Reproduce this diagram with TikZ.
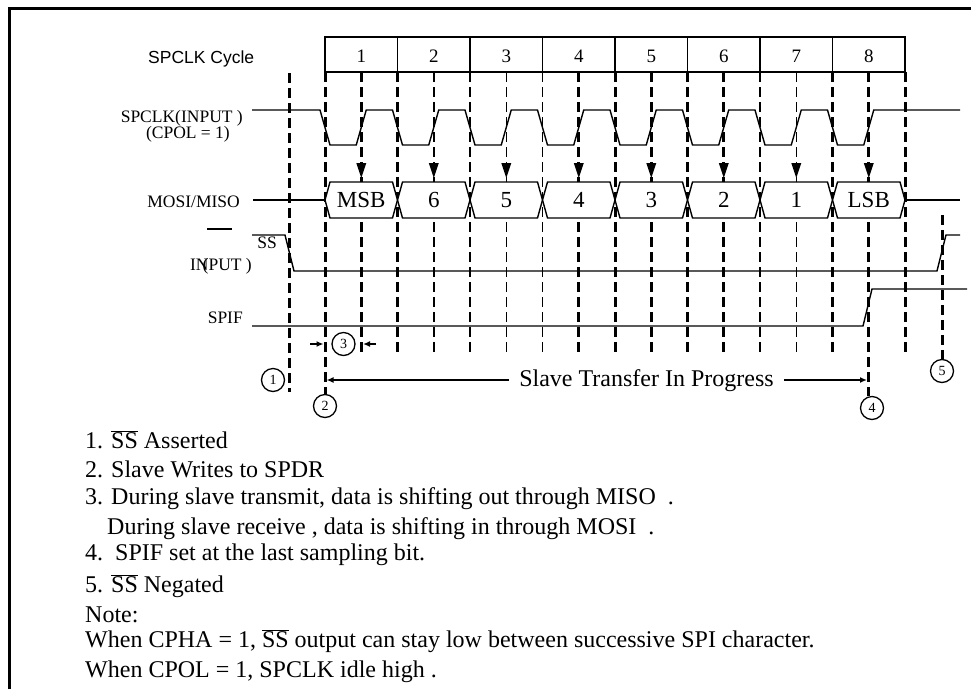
\documentclass[tikz,border=0pt]{standalone}
\usepackage{fontspec}
\setmainfont{Liberation Serif}
\newfontfamily\arial{Liberation Sans}
\usetikzlibrary{arrows.meta, positioning}

\newcommand{\barra}[1]{$\overline{\mbox{#1}}$}

\begin{document}
\begin{tikzpicture}[x=1pt, y=-1pt,
    senal/.style    = {draw=black, line width=1.4pt, line join=miter},
    celda/.style    = {draw=black, line width=1.4pt},
    guia/.style     = {draw=black, line width=3pt,
                       dash pattern=on 10pt off 5pt},
    guiafina/.style = {draw=black, line width=1.5pt,
                       dash pattern=on 10pt off 5pt},
    numero/.style   = {font=\fontsize{19}{22}\selectfont, inner sep=0pt},
    bit/.style      = {font=\fontsize{23}{27}\selectfont, inner sep=0pt},
    nombre/.style   = {font=\fontsize{17.5}{20}\selectfont, inner sep=0pt,
                       anchor=base east},
    texto/.style    = {font=\fontsize{24}{29}\selectfont, inner sep=0pt,
                       anchor=base west},
    marca/.style    = {circle, draw=black, line width=1.3pt,
                       minimum size=23pt, inner sep=0pt,
                       font=\fontsize{14}{16}\selectfont},
    flecha/.style   = {-{Latex[length=7pt,width=6pt]}, draw=black,
                       line width=1.4pt},
  ]
  \useasboundingbox (0,0) rectangle (971,689);

  %-------------------------------------------------- marco
  \draw[line width=3pt] (9,689) -- (9,8.5) -- (971,8.5);

  %-------------------------------------------------- ciclos de SPCLK
  \node[anchor=base west, inner sep=0pt,
        font=\arial\fontsize{17.5}{21}\selectfont] (ciclo) at (148,63)
    {SPCLK Cycle};
  \draw[celda] (325,37) rectangle (905,72);
  \foreach \k in {1,...,7}
    \draw[celda] ({325+72.5*\k},37) -- ({325+72.5*\k},72);
  \foreach \k in {1,...,8}
    \node[numero] (c\k) at ({288.75+72.5*\k},56.5) {\k};

  %-------------------------------------------------- guias punteadas
  \foreach \x/\ya/\yb in {289/73/392, 325/72/394, 361.25/72/356,
                          397.5/72/356, 578.75/72/356, 615/72/356,
                          651.25/72/356, 687.5/72/356, 723.75/72/356,
                          832.5/72/356, 868.75/72/396, 905/72/356,
                          942/215/359}
    \draw[guia] (\x,\ya) -- (\x,\yb);
  \foreach \x in {433.75, 470, 506.25, 542.5, 760, 796.25}
    \draw[guiafina] (\x,72) -- (\x,356);

  %-------------------------------------------------- SPCLK
  \node[nombre] (lclk) at (243,122) {SPCLK(INPUT )};
  \node[nombre] (lcpol) at (230,138) {(CPOL = 1)};
  \draw[senal] (252,110)
    foreach \k in {0,...,7} {
      -- ({320+72.5*\k},110) -- ({330+72.5*\k},145)
      -- ({356.25+72.5*\k},145) -- ({366.25+72.5*\k},110)
    } -- (960,110);

  %-------------------------------------------------- flancos de muestreo
  \foreach \k in {0,...,7}
    \fill ({356.25+72.5*\k},163) -- ({366.25+72.5*\k},163)
          -- ({361.25+72.5*\k},178) -- cycle;

  %-------------------------------------------------- MOSI/MISO
  \node[nombre] (lmosi) at (240,207) {MOSI/MISO};
  \draw[senal] (253,200) -- (325,200);
  \foreach \k in {0,...,7}
    \draw[senal, fill=white] ({325+72.5*\k},200) -- ({330+72.5*\k},182)
      -- ({392.5+72.5*\k},182) -- ({397.5+72.5*\k},200)
      -- ({392.5+72.5*\k},218) -- ({330+72.5*\k},218) -- cycle;
  \draw[senal] (905,200) -- (960,200);
  \foreach \b [count=\k from 0] in {MSB,6,5,4,3,2,1,LSB}
    \node[bit] (b\k) at ({361.25+72.5*\k},200) {\b};

  %-------------------------------------------------- SS
  \draw[senal] (207,229) -- (232,229);
  \node[nombre] (lss) at (277,248) {SS};
  \node[nombre] (lin) at (252,270) {IN\llap{(}PUT )};
  \draw[senal] (252,235) -- (285,235) -- (294,271) -- (937,271)
    -- (946,235) -- (960,235);

  %-------------------------------------------------- SPIF
  \node[nombre] (lspif) at (243,323) {SPIF};
  \draw[senal] (252,326) -- (863,326) -- (872,289) -- (967,289);

  %-------------------------------------------------- marcas
  \node[marca] (m1) at (273,380) {1};
  \node[marca] (m2) at (325,406) {2};
  \node[marca] (m3) at (343.5,344) {3};
  \node[marca] (m4) at (872,408) {4};
  \node[marca] (m5) at (942,371) {5};

  \coordinate (e3a) at (310,344);
  \coordinate (e3b) at (323.5,344);
  \coordinate (e3c) at (376,344);
  \coordinate (e3d) at (363,344);
  \draw[flecha] (e3a) -- (e3b);
  \draw[flecha] (e3c) -- (e3d);

  %-------------------------------------------------- transferencia
  \node[texto, anchor=base, inner xsep=10pt] (tr) at (646.5,386)
    {Slave Transfer In Progress};
  \coordinate (ti) at (326.5,380);
  \coordinate (td) at (867,380);
  \draw[flecha] (tr.west |- ti) -- (ti);
  \draw[flecha] (tr.east |- td) -- (td);

  %-------------------------------------------------- notas
  \node[texto] (n1) at (85,448) {1. \barra{SS} Asserted};
  \node[texto] (n2) at (85,477) {2. Slave Writes to SPDR};
  \node[texto] (n3) at (85,504)
    {3. During slave transmit, data is shifting out through MISO\ \ .};
  \node[texto] (n3b) at (107,534)
    {During slave receive , data is shifting in through MOSI\ \ .};
  \node[texto] (n4) at (85,560) {4.\ \ SPIF set at the last sampling bit.};
  \node[texto] (n5) at (85,592) {5. \barra{SS} Negated};
  \node[texto] (nota) at (85,622) {Note:};
  \node[texto] (w1) at (85,647)
    {When CPHA = 1, \barra{SS} output can stay low between successive SPI character.};
  \node[texto] (w2) at (85,677) {When CPOL = 1, SPCLK idle high .};
\end{tikzpicture}
\end{document}
